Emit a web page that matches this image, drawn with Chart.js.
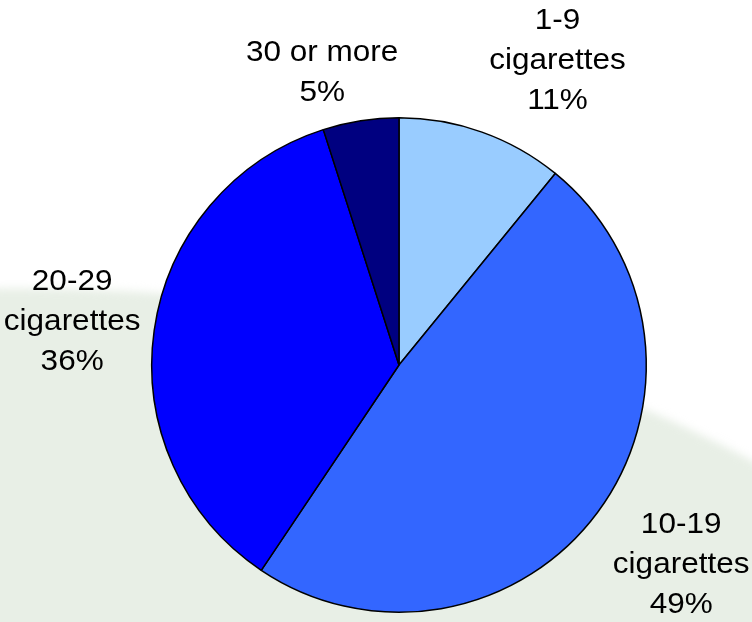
<!DOCTYPE html>
<html>
<head>
<meta charset="utf-8">
<script src="https://cdn.jsdelivr.net/npm/chart.js@4/dist/chart.umd.min.js"></script>
<style>
  html, body { margin: 0; padding: 0; background: #ffffff; }
  #wrap { position: relative; width: 752px; height: 622px; overflow: hidden; }
  canvas { display: block; }
</style>
</head>
<body>
<div id="wrap"><canvas id="chart" width="752" height="622"></canvas></div>
<script>
// Cigarettes smoked per day
const categories = ['1-9 cigarettes', '10-19 cigarettes', '20-29 cigarettes', '30 or more'];
const labelLines = [['1-9', 'cigarettes'], ['10-19', 'cigarettes'], ['20-29', 'cigarettes'], ['30 or more']];
const shares = [11, 49, 36, 5];
const sliceColors = ['#99ccff', '#3366ff', '#0000ff', '#000080'];

// Label placement: distance from the centre (in radii) and a fine nudge in px
const labelDistance = 1.38;
const labelNudge = [[44, 17], [8, -3], [11, 4], [-24, 45]];

// Soft pale green hill behind the pie
const backdrop = {
  id: 'backdrop',
  beforeDraw(chart) {
    const ctx = chart.ctx;
    const w = chart.width, h = chart.height;
    ctx.save();
    ctx.fillStyle = '#ffffff';
    ctx.fillRect(0, 0, w, h);
    ctx.filter = 'blur(4px)';
    ctx.fillStyle = '#e8efe6';
    ctx.beginPath();
    ctx.moveTo(-20, 289);
    ctx.bezierCurveTo(250, 283, 520, 330, w + 28, 476);
    ctx.lineTo(w + 28, h + 20);
    ctx.lineTo(-20, h + 20);
    ctx.closePath();
    ctx.fill();
    ctx.restore();
  }
};

// Category name and percentage written outside each slice
const sliceLabels = {
  id: 'sliceLabels',
  afterDatasetsDraw(chart) {
    const ctx = chart.ctx;
    const meta = chart.getDatasetMeta(0);
    const lineH = 40;
    ctx.save();
    ctx.fillStyle = '#000000';
    ctx.font = '30px "Liberation Sans", Arial, sans-serif';
    ctx.textAlign = 'center';
    ctx.textBaseline = 'middle';
    meta.data.forEach((arc, i) => {
      const p = arc.getProps(['x', 'y', 'startAngle', 'endAngle', 'outerRadius'], true);
      const mid = (p.startAngle + p.endAngle) / 2;
      const d = p.outerRadius * labelDistance;
      const cx = p.x + Math.cos(mid) * d + labelNudge[i][0];
      const cy = p.y + Math.sin(mid) * d + labelNudge[i][1];
      const lines = labelLines[i].concat([shares[i] + '%']);
      const top = cy - (lines.length - 1) * lineH / 2;
      lines.forEach((t, k) => {
        ctx.save();
        ctx.translate(cx, top + k * lineH);
        ctx.scale(1.05, 1);
        ctx.fillText(t, 0, 0);
        ctx.restore();
      });
    });
    ctx.restore();
  }
};

new Chart(document.getElementById('chart'), {
  type: 'pie',
  data: {
    labels: categories,
    datasets: [{
      data: shares,
      backgroundColor: sliceColors,
      borderColor: '#000000',
      borderWidth: 1.5
    }]
  },
  options: {
    responsive: false,
    animation: false,
    layout: { padding: { top: 117, bottom: 9, left: 151, right: 105 } },
    plugins: {
      legend: { display: false },
      tooltip: { enabled: false }
    }
  },
  plugins: [backdrop, sliceLabels]
});
</script>
</body>
</html>
